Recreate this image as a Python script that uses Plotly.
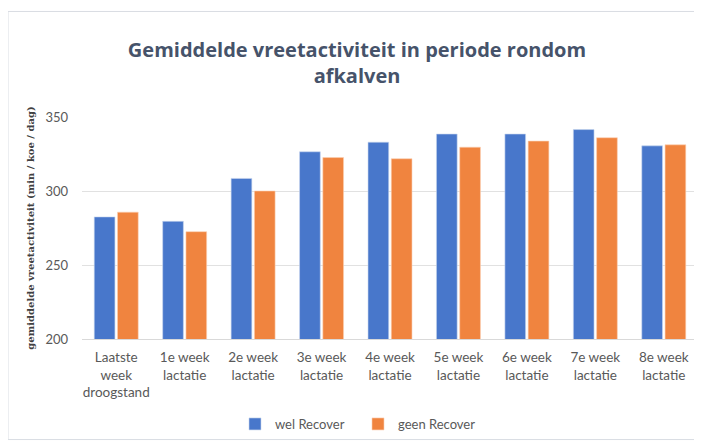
import plotly.graph_objects as go

categories = ["Laatste<br>week<br>droogstand", "1e week<br>lactatie", "2e week<br>lactatie",
              "3e week<br>lactatie", "4e week<br>lactatie", "5e week<br>lactatie",
              "6e week<br>lactatie", "7e week<br>lactatie", "8e week<br>lactatie"]
wel_recover = [282.5, 279.5, 308.5, 326.5, 333, 338.5, 338.5, 341.5, 330.5]
geen_recover = [285.7, 272.5, 300, 322.6, 321.8, 329.6, 333.7, 336, 331.2]
y_ticks = [200, 250, 300, 350]

OFF = 8  # page body margin
W, H = 702 - OFF, 442 - OFF
L, R, T, B = 82 - OFF, 4, 117 - OFF, 102

fig = go.Figure()
fig.add_trace(go.Bar(name="wel Recover", x=categories, y=wel_recover,
                     marker=dict(color="#4877cb", line=dict(color="#c9d6ef", width=0.6))))
fig.add_trace(go.Bar(name="geen Recover", x=categories, y=geen_recover,
                     marker=dict(color="#f0843f", line=dict(color="#fbd0b3", width=0.6))))

pw = W - L - R
ph = H - T - B
def px(x):
    return (x - OFF - L) / pw
def py(y):
    return (H - B - (y - OFF)) / ph

fig.update_layout(
    width=W, height=H,
    margin=dict(l=L, r=R, t=T, b=B),
    paper_bgcolor="white", plot_bgcolor="white",
    barmode="group", bargap=0.32, bargroupgap=0.11,
    title=dict(text="<b>Gemiddelde vreetactiviteit in periode rondom<br>afkalven</b>",
               x=(357 - OFF) / W, xanchor="center", y=1 - (57 - OFF) / H, yanchor="middle",
               font=dict(family="Open Sans", size=20, color="#46536a")),
    font=dict(family="Lato", size=12, color="#595959"),
    xaxis=dict(showgrid=False, showline=True, linecolor="#d9d9d9", linewidth=1,
               ticks="", ticklabelstandoff=6,
               tickfont=dict(family="Lato", size=13.5, color="#595959")),
    yaxis=dict(range=[200, 350], tickvals=y_ticks, showgrid=True, gridcolor="#e1e1e1",
               gridwidth=1, zeroline=False, showline=False, ticks="",
               ticklabelstandoff=13,
               tickfont=dict(family="Lato", size=13, color="#595959"),
               title=dict(text="<b>gemiddelde vreetactiviteit (min / koe / dag)</b>",
                          standoff=8,
                          font=dict(family="DejaVu Serif", size=10, color="#404040"))),
    legend=dict(orientation="h", x=px(358), xanchor="center", y=py(424), yanchor="middle",
                font=dict(family="Lato", size=13, color="#595959"),
                itemwidth=30, traceorder="normal", entrywidth=78, entrywidthmode="pixels"),
    shapes=[dict(type="rect", xref="paper", yref="paper",
                 x0=px(OFF), x1=px(701), y0=py(441), y1=py(11),
                 line=dict(color="#d9dde3", width=1), fillcolor="rgba(0,0,0,0)",
                 layer="below")],
)

fig.write_html("out.html")
